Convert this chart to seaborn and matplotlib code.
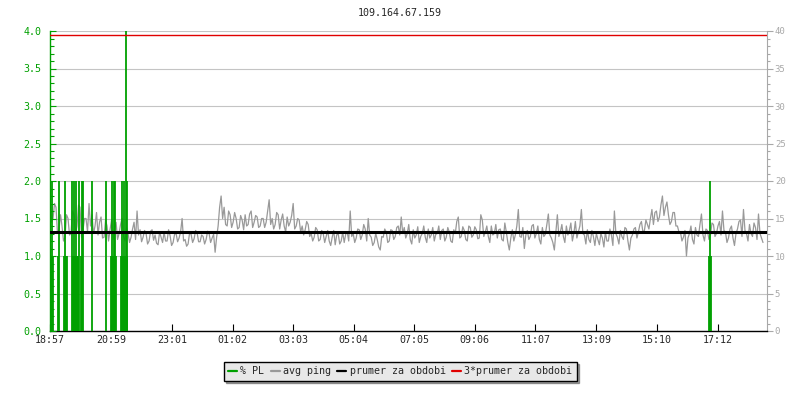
import numpy as np
import pandas as pd
import matplotlib
matplotlib.use("Agg")
import matplotlib.pyplot as plt
import matplotlib.transforms as mtransforms
from matplotlib.ticker import MultipleLocator, FormatStrFormatter
from matplotlib.lines import Line2D
import seaborn as sns

# ---------------- data ----------------
title = "109.164.67.159"
tick_minutes = [0, 122, 244, 365, 486, 607, 728, 849, 970, 1092, 1213, 1335]
tick_labels = ["18:57", "20:59", "23:01", "01:02", "03:03", "05:04",
               "07:05", "09:06", "11:07", "13:09", "15:10", "17:12"]
step_minutes = 3
# avg ping (ms), one value every 3 minutes from 18:57
avg_ping = [
    17.5, 14.5, 15.0, 17.0, 16.5, 13.0, 13.5, 15.5,
    14.0, 12.0, 12.5, 15.5, 15.0, 12.8, 13.0, 16.0, 15.5, 13.0,
    14.0, 16.8, 16.5, 12.5, 13.5, 15.0, 15.0, 13.2, 17.0, 14.0,
    15.5, 13.0, 14.0, 15.8, 12.8, 14.5, 15.2, 12.4, 12.5, 14.8, 14.0, 12.0,
    13.5, 14.8, 12.2, 13.6, 14.5, 12.2, 13.0, 14.2, 15.0, 12.6, 12.0, 13.8,
    13.0, 11.8, 12.5, 13.6, 14.5, 12.2, 16.0, 12.8, 13.5, 11.9,
    12.5, 13.4, 13.0, 11.6, 12.0, 13.3, 13.5, 12.1, 12.8, 11.7,
    11.5, 13.2, 12.5, 11.8, 13.2, 12.0, 12.0, 13.5, 12.7, 11.4,
    11.8, 12.9, 13.0, 11.9, 12.4, 13.2, 15.0, 12.0, 12.2, 11.3,
    11.6, 13.1, 12.9, 11.8, 12.3, 13.4, 13.1, 11.9, 11.9, 12.8,
    12.6, 11.6, 12.2, 13.3, 13.0, 11.8, 12.4, 12.9,
    10.5, 12.5, 14.0, 16.5, 18.0, 15.0, 16.5, 14.2,
    14.0, 16.0, 15.5, 13.8, 14.5, 15.8, 15.0, 13.6, 13.8, 15.4, 14.8, 13.5,
    15.5, 14.0, 14.2, 15.6, 16.0, 13.8, 14.5, 15.4, 15.2, 13.8, 14.0, 15.0,
    15.0, 13.8, 14.5, 16.0, 17.5, 14.2, 15.0, 13.6, 14.2, 15.8, 15.5, 13.6, 14.8,
    15.6, 14.0, 13.2, 15.2, 14.0, 14.5, 15.4, 17.0, 13.6, 14.0, 15.0, 14.8, 13.2,
    14.0, 12.8, 13.5, 14.6, 14.2, 12.6, 13.0, 12.0, 12.5, 13.8,
    13.5, 12.0, 12.2, 13.4, 13.0, 11.8, 12.6, 13.4, 12.0, 11.4,
    12.5, 13.4, 11.5, 12.8, 13.0, 11.6, 12.0, 13.2, 11.8, 12.9,
    13.2, 12.0, 16.0, 12.6, 13.0, 11.8, 12.4, 13.6, 13.5, 12.2,
    12.8, 14.2, 13.6, 12.0, 15.0, 12.8, 12.5, 11.4, 11.8, 13.0,
    12.2, 11.2, 10.8, 12.6,
    12.5, 13.6, 13.2, 11.8, 12.0, 13.5, 13.4, 12.2, 12.6, 13.8,
    14.0, 12.8, 15.2, 13.0, 13.8, 12.4, 13.0, 14.2, 12.2, 11.6,
    13.5, 12.4, 12.8, 13.9, 11.8, 12.6, 13.0, 14.0, 12.5, 11.8,
    13.6, 12.4, 12.8, 13.8, 12.0, 12.9,
    13.0, 14.0, 12.2, 13.4, 13.6, 12.0, 12.5, 13.8, 13.2, 12.0,
    11.8, 13.5, 13.0, 14.6, 15.2, 12.4, 12.6, 13.9, 13.4, 12.2,
    12.0, 14.0, 13.8, 12.5, 12.8, 13.9, 13.5, 12.3, 12.4, 15.5,
    14.8, 12.6, 13.2, 14.0, 12.6, 11.8, 14.0, 12.8, 13.0, 14.2,
    12.4, 13.5, 13.6, 12.2, 12.0, 14.4, 13.2, 11.8, 10.8, 12.4,
    13.5, 12.0, 12.8, 14.0, 16.2, 12.6, 12.5, 13.8, 11.0, 12.8,
    13.4, 12.2, 12.6, 14.0, 14.2, 12.4, 13.0, 14.0, 12.2, 11.6,
    13.8, 12.6, 12.9, 14.2, 15.6, 12.8, 12.4, 11.8, 10.8, 13.2,
    15.5, 12.6, 13.2, 14.2, 12.6, 11.8, 14.0, 12.8, 13.4, 14.4,
    12.0, 13.0, 14.6, 12.4, 13.2, 14.0,
    16.2, 13.0, 12.8, 11.6, 13.5, 12.2, 11.8, 13.4, 12.6, 11.4,
    13.0, 12.2, 11.5, 13.0, 12.4, 11.2, 13.2, 12.0, 12.0, 13.6,
    12.8, 11.4, 16.0, 13.0, 12.5, 11.6, 13.4, 12.6, 12.2, 13.8,
    13.6, 12.0, 10.8, 12.4, 12.8, 13.6, 13.8, 12.4, 13.2, 14.2,
    14.6, 13.2, 13.4, 14.8, 14.2, 13.6,
    15.0, 16.2, 14.2, 15.8, 16.0, 14.6, 15.2, 16.8, 18.0, 15.4,
    16.5, 17.2, 15.5, 14.2, 14.6, 15.8, 15.8, 14.0, 14.0, 13.2,
    13.2, 12.0, 12.5, 13.4, 10.0, 12.4, 13.0, 14.0, 12.2, 11.6,
    13.8, 12.8, 12.6, 14.2, 15.6, 12.8, 12.0, 13.6, 13.4, 12.2,
    12.8, 14.4, 14.2, 12.6, 13.0, 14.0, 14.6, 12.8, 16.0, 13.4,
    13.2, 11.8, 12.4, 13.6, 14.0, 12.4, 11.4, 13.0, 13.6, 14.6,
    14.8, 12.6, 16.2, 13.4, 13.0, 12.0, 14.2, 13.0, 12.6, 14.4,
    13.8, 12.2, 15.6, 13.0, 12.4, 11.8,
]
# packet loss (%) samples (minutes from 18:57, value)
pl_times = [0, 2, 4, 6, 16, 18, 28, 30, 32, 34,
            44, 46, 48, 50, 52, 54, 56, 58, 62, 64, 66, 84, 112,
            122, 124, 126, 128, 130, 132, 142, 144, 146, 148, 150, 151, 153, 154,
            1318, 1320, 1322]
pl_values = [1, 1, 2, 1, 1, 2, 1, 2, 1, 1,
             2, 1, 2, 1, 2, 1, 1, 2, 1, 2, 2, 2, 2,
             1, 2, 1, 2, 2, 1, 1, 2, 1, 2, 1, 10, 2, 1,
             1, 2, 1]
prumer = 13.15  # average for the period (ms)

# ---------------- style ----------------
sns.set_style("white")
plt.rcParams["font.family"] = ["DejaVu Sans Mono", "DejaVu Sans"]
FS = 7.2
GREEN = "#00a000"
GREY = "#999999"
TICKGREY = "#a8a8a8"

fig = plt.figure(figsize=(8, 4), dpi=100)
ax = fig.add_axes([50 / 800, 69 / 400, 716.5 / 800, 300 / 400])
ax.set_xlim(0, 1432)
ax.set_ylim(0, 40)

df = pd.DataFrame({"t": np.arange(len(avg_ping)) * step_minutes, "ping": avg_ping})
sns.lineplot(data=df, x="t", y="ping", ax=ax, color=GREY, lw=0.9, legend=False)
ax.set_xlabel("")
ax.set_ylabel("")

# left axis (% PL) as twin
ax_pl = ax.twinx()
ax_pl.set_ylim(0, 4)
ax_pl.yaxis.tick_left()
ax_pl.yaxis.set_label_position("left")
ax_pl.grid(False)

# right axis (ms) on the main axes
ax.yaxis.tick_right()
ax.yaxis.set_label_position("right")
ax.yaxis.set_major_locator(MultipleLocator(5))
ax.yaxis.set_minor_locator(MultipleLocator(1))
ax.tick_params(axis="y", which="major", direction="out", length=4, width=0.8,
               color=TICKGREY, labelcolor=TICKGREY, labelsize=6.5, pad=2,
               right=True, left=False, labelright=True, labelleft=False)
ax.tick_params(axis="y", which="minor", direction="out", length=2.5, width=0.8,
               color=TICKGREY, right=True, left=False)
ax.grid(axis="y", which="major", color="#c4c4c4", lw=0.8)
ax.grid(axis="x", visible=False)
ax.set_axisbelow(True)

ax.set_xticks(tick_minutes)
ax.set_xticklabels(tick_labels)
ax.tick_params(axis="x", direction="in", length=5, width=0.8, color="black",
               labelsize=FS, pad=3, bottom=True)
ax.spines["top"].set_visible(False)
ax.spines["left"].set_visible(False)
ax.spines["right"].set_color(TICKGREY)
ax.spines["right"].set_linewidth(0.8)
ax.spines["bottom"].set_color("black")
ax.spines["bottom"].set_linewidth(1.0)

ax_pl.vlines(pl_times, 0, pl_values, color=GREEN, lw=1.3)
ax_pl.yaxis.set_major_locator(MultipleLocator(0.5))
ax_pl.yaxis.set_minor_locator(MultipleLocator(0.1))
ax_pl.yaxis.set_major_formatter(FormatStrFormatter("%.1f"))
ax_pl.tick_params(axis="y", which="major", direction="in", length=4, width=0.8,
                  color=GREEN, labelcolor=GREEN, labelsize=FS, pad=6,
                  left=True, right=False, labelleft=True, labelright=False)
ax_pl.tick_params(axis="y", which="minor", direction="in", length=3, width=0.8,
                  color=GREEN, left=True, right=False)
for s in ["top", "right", "bottom"]:
    ax_pl.spines[s].set_visible(False)
ax_pl.spines["left"].set_visible(True)
ax_pl.spines["left"].set_color(GREEN)
ax_pl.spines["left"].set_linewidth(1.0)

trans = mtransforms.blended_transform_factory(ax_pl.transAxes, ax.transData)
ax_pl.plot([0, 1], [prumer, prumer], transform=trans, color="black", lw=2.2, zorder=5)
ax_pl.plot([0, 1], [3 * prumer, 3 * prumer], transform=trans, color="#e00000", lw=1.0, zorder=5)

fig.text(0.5, 1 - 13 / 400, title, ha="center", va="center", fontsize=FS)

handles = [Line2D([], [], color=GREEN, lw=1.6),
           Line2D([], [], color=GREY, lw=1.6),
           Line2D([], [], color="black", lw=1.6),
           Line2D([], [], color="#e00000", lw=1.6)]
labels = ["% PL", "avg ping", "prumer za obdobi", "3*prumer za obdobi"]
leg = fig.legend(handles, labels, loc="center", bbox_to_anchor=(0.5, 1 - 371 / 400),
                 ncol=4, frameon=True, fancybox=False, shadow=True,
                 facecolor="#e8e8e8", edgecolor="black", framealpha=1,
                 handlelength=0.9, handletextpad=0.35, columnspacing=0.6,
                 borderpad=0.45, fontsize=FS)
leg.get_frame().set_linewidth(1.0)

fig.savefig("out.png", dpi=100)
